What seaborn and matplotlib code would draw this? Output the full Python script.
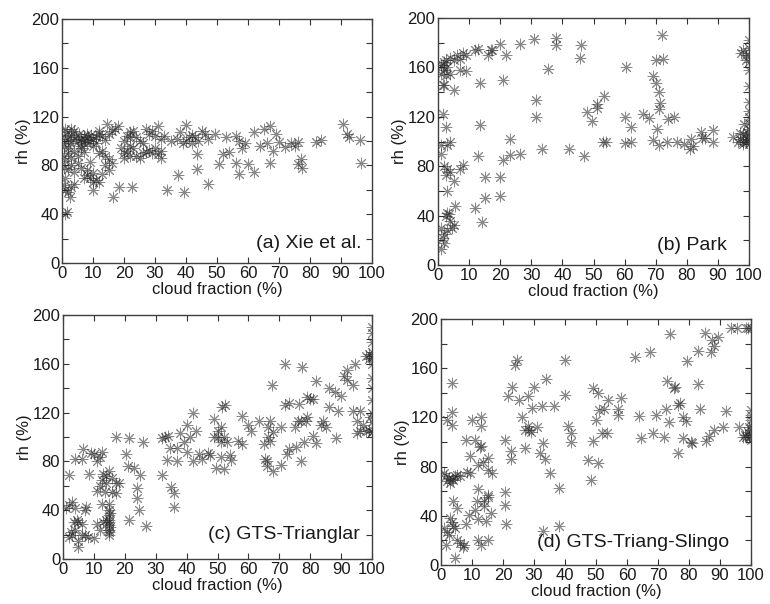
import numpy as np
import pandas as pd
import matplotlib
matplotlib.use("Agg")
import matplotlib.pyplot as plt
import seaborn as sns
from matplotlib.ticker import MultipleLocator

# ---------------- data (cloud fraction %, rh %) ----------------
xie_cf = [0.5,1,1.5,2,2.5,3,3.5,4,4.5,5,5.5,6,6.5,7,7.5,8,8.5,9,9.5,10,1,3,0.5,2,6,8,11,12,13,14,15,16,17,18,14.5,12,11,10,
          2,3,4,5,6,7,3,5,1,2,4,6,8,9,10,11,12,10,7,9,12,14,13,15,16,15,13,14,1,0.5,1,2,3,4,2.5,1,1.5,10,8,0.5,0.5,
          19,20,21,22,23,24,25,26,20,22,27,28,29,30,31,32,32,20,21,22,23,24,25,26,22,27,28,30,31,29,32,33,35,37,38,39,40,41,42,43,44,45,46,47,40,42,
          18.5,22.5,16.5,34,37.5,39.5,43.5,43.5,47,49.5,50.5,52,53,54,56,56,57,57,58,59,60,62,62,64,65,66,67,67,68,69,70,72,74,75,76,76,77,77.5,82,83.5,90.5,92,92.5,96,96.5]
xie_rh = [104,100,107,102,98,105,101,108,103,100,106,102,99,104,101,106,103,100,105,102,110,110,96,94,96,98,103,106,104,101,106,108,110,112,114,108,98,96,
          90,86,92,88,94,91,80,82,84,77,75,78,72,70,74,68,66,66,70,83,90,88,92,85,82,76,73,80,70,64,60,58,62,65,54,40,42,60,76,78,88,
          94,90,92,96,94,88,86,90,86,88,91,93,90,94,89,86,92,100,104,107,108,103,100,98,103,110,106,104,112,108,102,104,100,102,107,98,100,103,98,103,100,108,106,102,113,105,
          62,62,54,60,72,58,77,89,65,106,81,89,103,91,104,82,73,100,94,98,81,107,75,96,110,98,112,82,92,106,99,95,98,96,99,81,85,78,99,101,114,106,103,101,82]

park_cf = [1,2,2.5,3,4,5,6,7,8,9,12,13,16,17,17.5,20,22,26.5,31,38,38,46,45.5,35.5,21,13.5,9,7,4,2.5,1.5,2,5,1,1.5,2,
           1.5,2.5,3,1,1,4,2,3,4,2.5,5,7,8,3,5.5,3,2.5,3.5,4,5,4.5,2,1.5,2,1,3,1,12,14,15,15,13,20,20,21,23,26.5,23,13.5,
           31.5,31.5,33.5,42,47,48,49.5,51,51,53.5,53,54,60,60,60.5,62,62,66,68,69,70,70,71,71.5,71,72,72.5,70.5,69,71,73.5,74,76,77,79,81.5,82,81,84.5,85,86,88.5,88.5,
           95,97,98,98,99,99,99.5,100,100,100,100,100,100,100,100,100,100,100,100,100,98,97.5,99,99,98.5,97,98,100,99.5,96.5]
park_rh = [162,164,166,160,168,166,170,167,172,170,174,175,170,174,174,179,170,179,183,184,178,178,168,159,150,147,157,158,155,154,146,146,142,155,162,158,
           122,112,97,97,90,100,80,78,75,73,68,78,81,60,48,42,40,41,36,32,30,25,22,18,13,28,30,46,35,54,71,88,56,71,85,89,90,102,113,
           134,120,94,94,88,124,117,130,127,137,100,100,99,120,160,100,112,122,119,153,147,166,140,131,126,186,167,110,101,97,100,118,120,100,98,102,96,94,108,103,103,109,100,
           104,102,100,106,100,104,102,101,105,110,115,120,125,132,145,158,164,170,176,182,174,172,170,166,114,107,98,98,108,100]

gts_cf = [1,2,3,4,2.5,3,4,2,3.5,4.5,5,6,5,5,6,7,7.5,7,8,10,11,12,13,14,2,4,6,6.5,8.5,9,10,11,12,12.5,11,12,12.5,13,14,13.5,14,15,16,17,18,16,17,15,12.5,
          15,15,15,15,15,15,15.2,14.8,15.3,15,
          17,20.5,21,21.5,23,24,24,24.5,21.5,25,26,27,32,32,33,33.5,34,34.5,35,36,36,37,37,38,39,40,40,41,42,42,43,44,45,47,47.5,49,49,49.5,50,50,51,51,51,52,51.5,52.5,52,53,54,54.5,
          56.5,58,58,60,61,63.5,65,65.5,66,66,66.5,66.5,67,67,67.5,68,68,70.5,70.5,72,72,73,72.5,73,75,75.5,76,77,76.5,77,77.5,78,78.5,79,79,80,81,81,82,82,83.5,84,85,86,86,88,88.5,89,90,
          91,92,92,94,94.5,94,95,95,96,96,97,98,98,99,99,100,100,100,100,100,100,100,100,100,100,100,100,100,99.5,99,100]
gts_rh = [42,44,47,42,22,20,24,18,30,32,30,29,15,10,20,40,43,20,18,17,29,24,30,32,69,82,82,90,70,87,86,80,84,88,56,60,65,70,68,55,62,72,66,62,62,55,54,45,45,
          20,24,28,32,36,40,26,30,38,22,
          100,86,76,99,75,58,50,40,32,69,96,27,69,99,100,81,101,91,59,54,43,80,91,103,96,110,88,100,80,120,105,86,82,87,85,100,115,75,105,100,96,108,84,100,125,126,74,96,85,81,
          97,94,117,110,105,113,94,82,80,76,100,108,97,113,143,104,72,108,77,126,160,128,86,90,108,92,113,113,127,80,157,96,113,133,116,131,101,131,95,146,110,113,108,140,125,137,99,121,134,
          150,155,147,143,160,121,103,113,105,121,110,166,105,168,106,104,112,120,130,140,148,160,165,170,178,185,190,104,116,164,166]

sli_cf = [1,1.5,2,2.5,3,3.5,4,4.5,5,6,1,1.5,2,2.5,3,3.5,4,4,4.5,5,5,6,4.5,3.5,3.5,2,3.5,7,7.5,8,8,8.5,9,9.5,9.5,10,11,11,11.5,12,12,12,12,13,12.5,13,13,13.5,13,14,14,14.5,15,15,15,15,15,16,16.5,
          20.5,20.5,20.5,21,21.5,22.5,22.5,23,24,24.5,25,26,27,27,28,28,28.5,29,29.5,30,31,32.5,32,33,33.5,33,34,35,36.5,38,38,40,40,41,42,42,
          47.5,48.5,49,49,50,50.5,50.5,51,52,52.5,53.5,54,57,57,58,62.5,64,64.5,67.5,68.5,69.5,72,72.5,73,73.5,74,75,75.5,76.5,76.5,77,78,78,79,79.5,80.5,81,83,83,83.5,85,85.5,86.5,87,87.5,88,88,89.5,
          91,92,93.5,95.5,96,98,98.5,99,99.5,100,100,100,100,100,100,100,99,98.5,97.5,99.5,100]
sli_rh = [75,72,68,71,67,70,69,72,73,72,30,16,27,24,38,35,32,52,30,46,20,18,6,148,124,118,114,15,16,33,102,76,41,75,89,118,102,45,52,62,37,81,20,97,96,113,120,84,16,52,48,36,77,87,57,55,20,42,75,
          102,59,49,33,137,93,86,145,163,167,134,120,95,110,113,137,110,108,128,145,112,129,91,99,86,28,151,75,129,63,32,138,167,113,107,100,
          85,69,101,144,118,140,83,126,107,127,107,134,127,122,136,169,121,103,173,107,122,104,127,150,116,188,144,145,91,130,132,120,103,117,166,100,99,147,174,127,189,101,105,173,183,178,110,185,
          112,125,193,193,112,106,193,193,104,102,106,110,114,118,122,126,108,104,104,112,193]

panels = [
    ("(a) Xie et al.", xie_cf, xie_rh, [62, 19, 372, 263], 0.965, 0.08),
    ("(b) Park", park_cf, park_rh, [438, 18, 749, 265], 0.93, 0.08),
    ("(c) GTS-Trianglar", gts_cf, gts_rh, [63, 315, 372, 559], 0.96, 0.10),
    ("(d) GTS-Triang-Slingo", sli_cf, sli_rh, [441, 319, 751, 565], 0.93, 0.09),
]

sns.set_theme(style="white")
plt.rcParams['font.family'] = ['Liberation Sans', 'DejaVu Sans']

W, H = 770, 604
fig = plt.figure(figsize=(W / 100, H / 100), dpi=100)

for label, cf, rh, (l, t, r, b), tx, ty in panels:
    ax = fig.add_axes([l / W, 1 - b / H, (r - l) / W, (b - t) / H])
    df = pd.DataFrame({"cf": cf, "rh": rh})
    sns.scatterplot(data=df, x="cf", y="rh", ax=ax, marker=(8, 2, 0), color="0.15",
                    s=60, linewidth=0.7, alpha=0.55, legend=False)
    ax.set_xlim(0, 100)
    ax.set_ylim(0, 200)
    ax.xaxis.set_major_locator(MultipleLocator(10))
    ax.yaxis.set_major_locator(MultipleLocator(40))
    ax.yaxis.set_minor_locator(MultipleLocator(20))
    ax.tick_params(which="both", direction="in", top=True, right=True, bottom=True, left=True,
                   length=4, width=0.8, color="0.2", labelsize=12, pad=2, labelcolor="0.1")
    for sp in ax.spines.values():
        sp.set_color("0.25")
        sp.set_linewidth(1.0)
    ax.set_xlabel("cloud fraction (%)", fontsize=12, labelpad=1, color="0.1")
    ax.set_ylabel("rh (%)", fontsize=12, labelpad=0, color="0.1")
    ax.text(tx, ty, label, transform=ax.transAxes, ha="right", va="center",
            fontsize=14, color="0.1")

fig.savefig("out.png", dpi=100)
